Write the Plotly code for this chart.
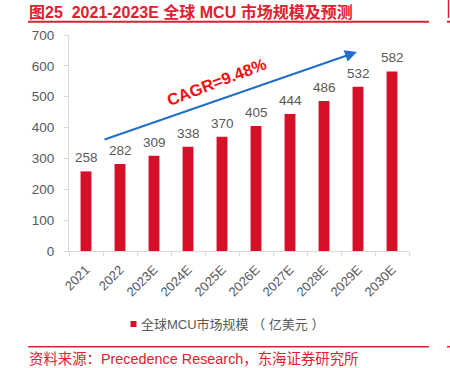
import plotly.graph_objects as go

years = ["2021", "2022", "2023E", "2024E", "2025E", "2026E", "2027E", "2028E", "2029E", "2030E"]
values = [258, 282, 309, 338, 370, 405, 444, 486, 532, 582]
series_name = "全球MCU市场规模 （ 亿美元 ）"
title_text = "图25  2021-2023E 全球 MCU 市场规模及预测"
source_text = "资料来源：Precedence Research，东海证券研究所"
cagr_text = "CAGR=9.48%"

RED = "#D7102A"
TRED = "#E0202F"
GRAY = "#595959"
FONT = "Liberation Sans, Arial, Noto Sans CJK SC, sans-serif"

# pixel -> paper helpers (plot area: x 69..409, y 35..251)
def px(x):
    return (x - 69) / 340

def py(y):
    return (251 - y) / 216

fig = go.Figure()
fig.add_trace(go.Bar(
    x=years, y=values, name=series_name,
    marker=dict(color=RED, line=dict(width=0)),
    cliponaxis=False, showlegend=False,
))

# value labels above bars (category index positions)
for i, v in enumerate(values):
    fig.add_annotation(x=i, y=v, text=str(v), xref="x", yref="y",
                       yanchor="bottom", yshift=4, showarrow=False,
                       font=dict(color=GRAY, size=13.5, family=FONT))

fig.update_layout(
    width=450, height=368,
    margin=dict(l=69, r=41, t=35, b=117, autoexpand=False),
    paper_bgcolor="white", plot_bgcolor="white",
    bargap=0.68,
    font=dict(family=FONT, color=GRAY, size=12),
    showlegend=False,
    xaxis=dict(type="category", categoryorder="array", categoryarray=years,
               range=[-0.5, len(years) - 0.5],
               showline=True, linecolor="#d9d9d9", linewidth=1,
               ticks="outside", tickson="boundaries", ticklen=4, tickcolor="#d9d9d9",
               tickangle=-45, tickfont=dict(size=13, color=GRAY), showgrid=False,
               ticklabelstandoff=5, automargin=False),
    yaxis=dict(range=[0, 700], dtick=100, showline=True, linecolor="#d9d9d9", linewidth=1,
               ticks="outside", ticklen=4, tickcolor="#d9d9d9", showgrid=False, zeroline=False,
               tickfont=dict(size=13.5, color=GRAY), ticklabelstandoff=7, automargin=False),
)

# title and rules
fig.add_annotation(text="<b>" + title_text + "</b>", xref="paper", yref="paper",
                   x=px(27), y=py(12), xanchor="left", yanchor="middle",
                   showarrow=False, font=dict(size=16, color=TRED, family=FONT))
fig.add_shape(type="line", xref="paper", yref="paper", x0=px(28), x1=px(429),
              y0=py(21.7), y1=py(21.7), line=dict(color=TRED, width=2))
fig.add_shape(type="line", xref="paper", yref="paper", x0=px(28), x1=px(429),
              y0=py(346.7), y1=py(346.7), line=dict(color=TRED, width=1.5))
fig.add_annotation(text=source_text, xref="paper", yref="paper",
                   x=px(27), y=py(359), xanchor="left", yanchor="middle",
                   showarrow=False, font=dict(size=14.4, color=TRED, family=FONT))
# neighbouring page edge marks
fig.add_shape(type="line", xref="paper", yref="paper", x0=px(448.5), x1=px(448.5),
              y0=py(0), y1=py(18), line=dict(color=TRED, width=1.5))
fig.add_shape(type="line", xref="paper", yref="paper", x0=px(447), x1=px(450),
              y0=py(21.7), y1=py(21.7), line=dict(color=TRED, width=2))
fig.add_shape(type="line", xref="paper", yref="paper", x0=px(447), x1=px(450),
              y0=py(346.7), y1=py(346.7), line=dict(color=TRED, width=1.5))

# manual legend
fig.add_shape(type="rect", xref="paper", yref="paper", x0=px(130.5), x1=px(136.5),
              y0=py(327), y1=py(321), line=dict(width=0), fillcolor=RED)
fig.add_annotation(text=series_name, xref="paper", yref="paper",
                   x=px(139), y=py(324.5), xanchor="left", yanchor="middle",
                   showarrow=False, font=dict(size=13, color=GRAY, family=FONT))

# CAGR arrow
fig.add_annotation(text="", xref="paper", yref="paper",
                   x=px(357), y=py(52),
                   ax=103 - 357, ay=140 - 52, axref="pixel", ayref="pixel",
                   showarrow=True, arrowhead=2, arrowsize=1.2, arrowwidth=2, arrowcolor="#1F6FC9")
fig.add_annotation(text="<b>" + cagr_text + "</b>", xref="paper", yref="paper",
                   x=px(216), y=py(52), showarrow=False, textangle=-21,
                   font=dict(size=16.5, color="#F01010", family=FONT))

fig.write_html("out.html", post_script="document.body.style.margin='0';",
               config={"displayModeBar": False})
